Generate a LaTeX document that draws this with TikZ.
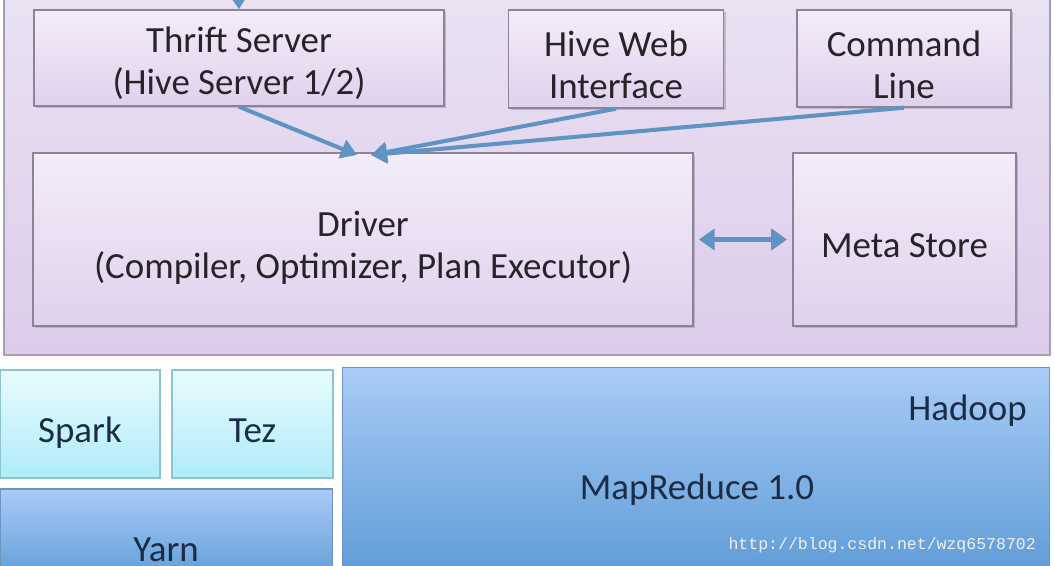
\documentclass[tikz,border=0pt]{standalone}
\usepackage{fontspec}
\setmainfont{Carlito}
\newfontfamily\markfont{Liberation Mono}
\usetikzlibrary{arrows.meta,shadows}

\definecolor{paneltop}{HTML}{EAE2F3}
\definecolor{panelbot}{HTML}{DCCCEA}
\definecolor{panelline}{HTML}{A99DB4}
\definecolor{boxtop}{HTML}{F3ECF9}
\definecolor{boxbot}{HTML}{E0D1EC}
\definecolor{boxline}{HTML}{8E8299}
\definecolor{flowblue}{HTML}{5E93C4}
\definecolor{cyantop}{HTML}{E8FBFE}
\definecolor{cyanbot}{HTML}{AFEBF8}
\definecolor{cyanline}{HTML}{8CC3CE}
\definecolor{bluetop}{HTML}{A9CCF6}
\definecolor{bluebot}{HTML}{5C9AD6}
\definecolor{blueline}{HTML}{6E93BE}
\definecolor{inkpurple}{HTML}{262329}
\definecolor{inkblue}{HTML}{1B2C45}

\tikzset{
  hivebox/.style={draw=boxline, line width=0.8pt, top color=boxtop, bottom color=boxbot,
    inner sep=0pt,
    drop shadow={opacity=0.3, shadow xshift=1.2pt, shadow yshift=-1.2pt, fill=black!60}},
  hivetext/.style={align=center, text=inkpurple, font=\fontsize{21}{24}\selectfont, yshift=-3.5pt},
  enginebox/.style={draw=cyanline, line width=0.6pt, top color=cyantop, bottom color=cyanbot,
    inner sep=0pt},
  hadoopbox/.style={draw=blueline, line width=0.6pt, top color=bluetop, bottom color=bluebot,
    inner sep=0pt},
  bluetext/.style={text=inkblue, font=\fontsize{21}{24}\selectfont},
  flow/.style={draw=flowblue, line width=2.3pt, -{Triangle[length=9pt,width=11pt]}},
  twoway/.style={draw=flowblue, line width=2.6pt, {Triangle[length=9pt,width=12pt]}-{Triangle[length=9pt,width=12pt]}},
}

\begin{document}
\begin{tikzpicture}[x=0.02cm,y=-0.02cm]
    \useasboundingbox (0,0) rectangle (1054,565);

    % hive panel
    \draw[draw=panelline, line width=0.8pt, top color=paneltop, bottom color=panelbot]
        (4,-20) rectangle (1050,355);

    \node[hivebox, minimum width=8.2cm, minimum height=1.92cm] (thrift) at (239,58) {};
    \node[hivebox, minimum width=4.3cm, minimum height=1.96cm] (web) at (616,59) {};
    \node[hivebox, minimum width=4.28cm, minimum height=1.94cm] (cli) at (904,58.5) {};
    \node[hivebox, minimum width=13.2cm, minimum height=3.46cm] (driver) at (363,239.5) {};
    \node[hivebox, minimum width=4.46cm, minimum height=3.46cm] (meta) at (904.5,239.5) {};

    \node[hivetext, yshift=0.5pt] (thriftlbl) at (thrift) {Thrift Server\\(Hive Server 1/2)};
    \node[hivetext] (weblbl) at (web) {Hive Web\\Interface};
    \node[hivetext] (clilbl) at (cli) {Command\\Line};
    \node[hivetext, yshift=-1pt] (driverlbl) at (driver) {Driver\\(Compiler, Optimizer, Plan Executor)};
    \node[hivetext] (metalbl) at (meta) {Meta Store};

    \coordinate (client) at (238,-25);
    \coordinate (in1) at (357,155);
    \coordinate (in2) at (371,155);

    \path[flow] (client) -- (thrift.north);
    \path[flow] (thrift.south) -- (in1);
    \path[flow] (web.south) -- (in2);
    \path[flow] (cli.south) -- (in2);
    \path[twoway, shorten <=3pt, shorten >=3pt] (driver.east) -- (meta.west);

    % execution layer
    \node[enginebox, minimum width=3.2cm, minimum height=2.16cm] (spark) at (80,424) {};
    \node[enginebox, minimum width=3.22cm, minimum height=2.16cm] (tez) at (252.5,424) {};
    \node[hadoopbox, minimum width=6.66cm, minimum height=1.9cm] (yarn) at (166.5,536.5) {};
    \node[hadoopbox, minimum width=14.16cm, minimum height=4.3cm] (hadoop) at (696,475) {};
    \node[bluetext, yshift=-5pt] (sparklbl) at (spark) {Spark};
    \node[bluetext, yshift=-4pt] (tezlbl) at (tez) {Tez};
    \node[bluetext, anchor=base, inner sep=0pt] (yarnlbl) at (166,561) {Yarn};
    \node[bluetext] (mr) at (697,490) {MapReduce 1.0};
    \node[bluetext, anchor=east] (hadooplbl) at (1033,411) {Hadoop};
    \node[text=white!88!gray, font=\markfont\fontsize{9.4}{11}\selectfont, anchor=east] (mark) at (1042,545) {http://blog.csdn.net/wzq6578702};
\end{tikzpicture}
\end{document}
